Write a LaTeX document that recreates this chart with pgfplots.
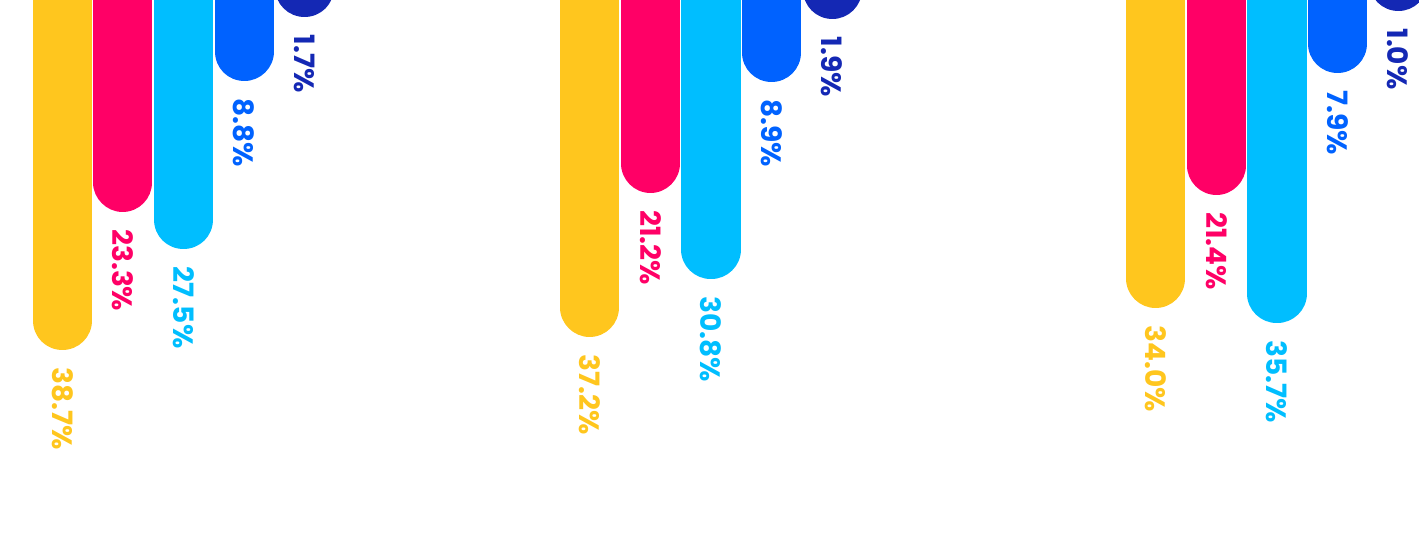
\documentclass[border=0pt]{standalone}
\usepackage{fontspec}
\setmainfont{Poppins}
\usepackage{pgfplots}
\pgfplotsset{compat=1.18}
\definecolor{cY}{HTML}{FFC61E}
\definecolor{cP}{HTML}{FF0066}
\definecolor{cC}{HTML}{00BEFF}
\definecolor{cB}{HTML}{0062FF}
\definecolor{cD}{HTML}{1428B4}
\pgfplotsset{
  capbar/.style={ybar, bar width=0.02pt, bar shift=0pt, line width=29.5pt, line join=round,
    color=#1, fill=#1,
    nodes near coords={\pgfmathprintnumber{\pgfplotspointmeta}\%},
    every node near coord/.append style={rotate=-90, anchor=west, inner xsep=23.5pt, inner ysep=0pt,
      outer sep=0pt, text=#1, font=\bfseries\fontsize{14}{14}\selectfont},
  },
}
\begin{document}
\begin{tikzpicture}
\begin{axis}[
  x=0.5pt, y=4.5pt, y dir=reverse,
  xmin=0, xmax=1419, ymin=-8, ymax=63.389,
  axis lines=none, clip=false,
  /pgf/number format/fixed,
  /pgf/number format/fixed zerofill,
  /pgf/number format/precision=1,
  /pgf/number format/assume math mode=true,
]
% x = bar centre (px); three groups
\addplot[capbar=cY] coordinates {(62.3,38.7) (589.8,37.2) (1155.8,34.0)};
\addplot[capbar=cP] coordinates {(122.9,23.3) (650.4,21.2) (1216.4,21.4)};
\addplot[capbar=cC] coordinates {(183.5,27.5) (711,30.8) (1277,35.7)};
\addplot[capbar=cB] coordinates {(244.1,8.8) (771.6,8.9) (1337.6,7.9)};
\addplot[capbar=cD] coordinates {(304.7,1.7) (832.2,1.9) (1398.2,1.0)};
\coordinate (TL) at (axis cs:0,3.0556);
\coordinate (BR) at (axis cs:1419,63.389);
\end{axis}
\pgfresetboundingbox
\useasboundingbox (TL) rectangle (BR);
\end{tikzpicture}
\end{document}
